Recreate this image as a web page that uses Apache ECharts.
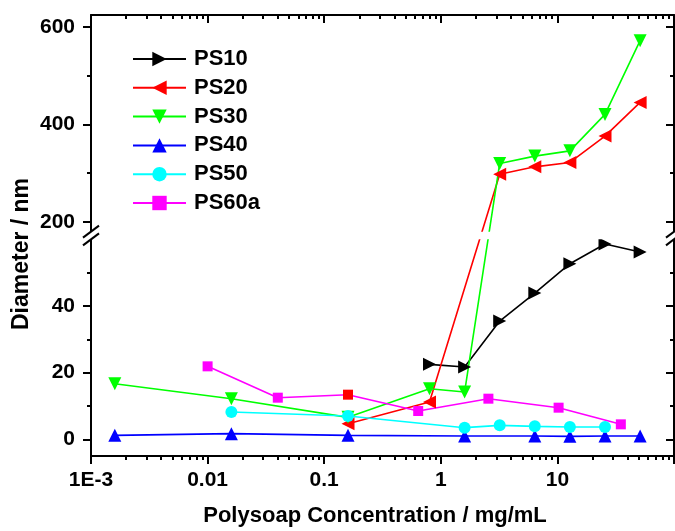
<!DOCTYPE html>
<html><head><meta charset="utf-8">
<script src="https://cdn.jsdelivr.net/npm/echarts@6/dist/echarts.min.js"></script>
<style>html,body{margin:0;padding:0;background:#fff}#c{width:675px;height:531px}</style>
</head><body><div id="c"></div>
<script>
// ---- data (concentration in mg/mL, diameter in nm) ----
const CONC_PS10 = [0.8, 1.6, 3.2, 6.4, 12.8, 25.6, 51.2];
const DIAM_PS10 = [22.5, 21.7, 35.5, 43.9, 52.7, 58.6, 56.2];
const CONC_PS20 = [0.16, 0.8, 3.2, 6.4, 12.8, 25.6, 51.2];
const DIAM_PS20 = [4.7, 11.2, 297.8, 312.8, 321.8, 375.8, 444.9];
const CONC_PS30 = [0.0016, 0.016, 0.16, 0.8, 1.6, 3.2, 6.4, 12.8, 25.6, 51.2];
const DIAM_PS30 = [16.7, 12.2, 6.6, 15.2, 14.2, 319.8, 334.8, 345.6, 420.3, 571.3];
const CONC_PS40 = [0.0016, 0.016, 0.16, 1.6, 6.4, 12.8, 25.6, 51.2];
const DIAM_PS40 = [1.2, 1.7, 1.2, 1.0, 1.0, 0.9, 1.0, 1.0];
const CONC_PS50 = [0.016, 0.16, 1.6, 3.2, 6.4, 12.8, 25.6];
const DIAM_PS50 = [8.2, 7.0, 3.5, 4.2, 3.9, 3.7, 3.7];
const CONC_PS60A = [0.01, 0.04, 0.16, 0.64, 2.56, 10.24, 35];
const DIAM_PS60A = [21.9, 12.5, 13.4, 8.5, 12.2, 9.5, 4.5];
const PS60A_RED_POINT = 2; // this marker is red in the original

const SERIES_NAMES = ['PS10', 'PS20', 'PS30', 'PS40', 'PS50', 'PS60a'];

// ---- axes ----
const X_MIN = 0.001, X_MAX = 100;
const X_MAJOR = [0.001, 0.01, 0.1, 1, 10, 100];
const X_LABELS = ['1E-3', '0.01', '0.1', '1', '10'];
const Y_MAJOR = [0, 20, 40, 200, 400, 600];
const Y_MINOR = [10, 30, 50, 300, 500];
const Y_MIN = -5, LOW_MAX = 60, UP_MIN = 180, UP_MAX = 624;
const BREAK_GAP = 2.32, UP_SCALE = 0.1464;

function toDisp(v) { return v <= LOW_MAX ? v : LOW_MAX + BREAK_GAP + (v - UP_MIN) * UP_SCALE; }
function fromDisp(d) { return d <= LOW_MAX + 1e-6 ? d : UP_MIN + (d - LOW_MAX - BREAK_GAP) / UP_SCALE; }

const X_MINOR = [];
for (let e = -3; e <= 1; e++) for (let m = 2; m <= 9; m++) X_MINOR.push(+(m * Math.pow(10, e)).toPrecision(6));

const FONT = '"Liberation Sans", Arial, sans-serif';
const chart = echarts.init(document.getElementById('c'), null, { renderer: 'canvas' });

function pairs(xs, ys) { return xs.map((x, i) => [x, toDisp(ys[i])]); }

function mkSeries(name, xs, ys, color, symbol, rot, size) {
  return {
    name, type: 'line', xAxisIndex: 0, yAxisIndex: 0,
    data: pairs(xs, ys), symbol, symbolRotate: rot, symbolSize: size,
    showSymbol: true, clip: true,
    lineStyle: { color, width: 1.6 }, itemStyle: { color },
    emphasis: { disabled: true }
  };
}

const ps60 = mkSeries('PS60a', CONC_PS60A, DIAM_PS60A, '#ff00ff', 'rect', 0, 10);
ps60.data = ps60.data.map((p, i) => i === PS60A_RED_POINT ? { value: p, itemStyle: { color: '#ff0000' } } : p);

const series = [
  mkSeries('PS10', CONC_PS10, DIAM_PS10, '#000000', 'triangle', -90, 13),
  mkSeries('PS20', CONC_PS20, DIAM_PS20, '#ff0000', 'triangle', 90, 13),
  mkSeries('PS30', CONC_PS30, DIAM_PS30, '#00ff00', 'triangle', 180, 13),
  mkSeries('PS40', CONC_PS40, DIAM_PS40, '#0000ff', 'triangle', 0, 13),
  mkSeries('PS50', CONC_PS50, DIAM_PS50, '#00ffff', 'circle', 0, 12),
  ps60
];

function xAxisDef(pos, major, inside) {
  return {
    type: 'log', logBase: 10, min: X_MIN, max: X_MAX, position: pos, gridIndex: 0,
    axisLine: { show: major, onZero: false, lineStyle: { color: '#000', width: 2 } },
    axisTick: { show: true, inside, length: major ? 8 : 4, customValues: major ? X_MAJOR : X_MINOR,
      lineStyle: { color: '#000', width: 2 } },
    axisLabel: (major && pos === 'bottom') ? {
      show: true, customValues: X_MAJOR.slice(0, 5), margin: 14,
      fontFamily: FONT, fontSize: 21, fontWeight: 'bold', color: '#000',
      formatter: v => X_LABELS[Math.round(Math.log10(v)) + 3]
    } : { show: false },
    splitLine: { show: false }, minorTick: { show: false }, minorSplitLine: { show: false }
  };
}
function yAxisDef(pos, major, inside) {
  return {
    type: 'value', min: toDisp(Y_MIN), max: toDisp(UP_MAX), position: pos, gridIndex: 0,
    axisLine: { show: major, onZero: false, lineStyle: { color: '#000', width: 2 } },
    axisTick: { show: true, inside, length: major ? 8 : 4,
      customValues: (major ? Y_MAJOR : Y_MINOR).map(toDisp),
      lineStyle: { color: '#000', width: 2 } },
    axisLabel: (major && pos === 'left') ? {
      show: true, customValues: Y_MAJOR.map(toDisp), margin: 16,
      fontFamily: FONT, fontSize: 21, fontWeight: 'bold', color: '#000',
      formatter: v => String(Math.round(fromDisp(v)))
    } : { show: false },
    splitLine: { show: false }
  };
}

const option = {
  animation: false,
  backgroundColor: '#fff',
  grid: { left: 91, right: 1, top: 15, bottom: 75, containLabel: false, outerBoundsMode: 'none' },
  xAxis: [
    xAxisDef('bottom', true, false), xAxisDef('bottom', false, false),
    xAxisDef('top', true, true), xAxisDef('top', false, true)
  ],
  yAxis: [
    yAxisDef('left', true, false), yAxisDef('left', false, false),
    yAxisDef('right', true, true), yAxisDef('right', false, true)
  ],
  legend: {
    data: SERIES_NAMES, orient: 'vertical', left: 127, top: 43,
    itemWidth: 53, itemHeight: 18, itemGap: 6.8, selectedMode: false,
    textStyle: { fontFamily: FONT, fontSize: 22, fontWeight: 'bold', color: '#000', lineHeight: 22, padding: [0, 0, 0, 3] }
  },
  series
};
chart.setOption(option);

// axis-break decoration and titles
const pLow = chart.convertToPixel({ yAxisIndex: 0 }, LOW_MAX);
const pUp = chart.convertToPixel({ yAxisIndex: 0 }, toDisp(UP_MIN));
const xL = chart.convertToPixel({ xAxisIndex: 0 }, X_MIN);
const xR = chart.convertToPixel({ xAxisIndex: 0 }, X_MAX);
const g = [];
g.push({ type: 'rect', z: 100, shape: { x: xL + 1, y: pUp, width: xR - xL - 2, height: pLow - pUp }, style: { fill: '#fff' } });
[xL, xR].forEach(x => {
  g.push({ type: 'polygon', z: 101, shape: { points: [[x - 8, pLow + 6], [x + 8, pLow - 6], [x + 8, pUp - 6], [x - 8, pUp + 6]] }, style: { fill: '#fff' } });
  g.push({ type: 'line', z: 102, shape: { x1: x - 8, y1: pLow + 6, x2: x + 8, y2: pLow - 6 }, style: { stroke: '#000', lineWidth: 2 } });
  g.push({ type: 'line', z: 102, shape: { x1: x - 8, y1: pUp + 6, x2: x + 8, y2: pUp - 6 }, style: { stroke: '#000', lineWidth: 2 } });
});
g.push({ type: 'text', z: 100, x: 375, y: 516, style: { text: 'Polysoap Concentration / mg/mL', font: 'bold 22px ' + FONT, fill: '#000', align: 'center', verticalAlign: 'middle' } });
g.push({ type: 'text', z: 100, x: 22, y: 254, rotation: Math.PI / 2, style: { text: 'Diameter / nm', font: 'bold 23px ' + FONT, fill: '#000', align: 'center', verticalAlign: 'middle' } });
chart.setOption({ graphic: g });
</script></body></html>
